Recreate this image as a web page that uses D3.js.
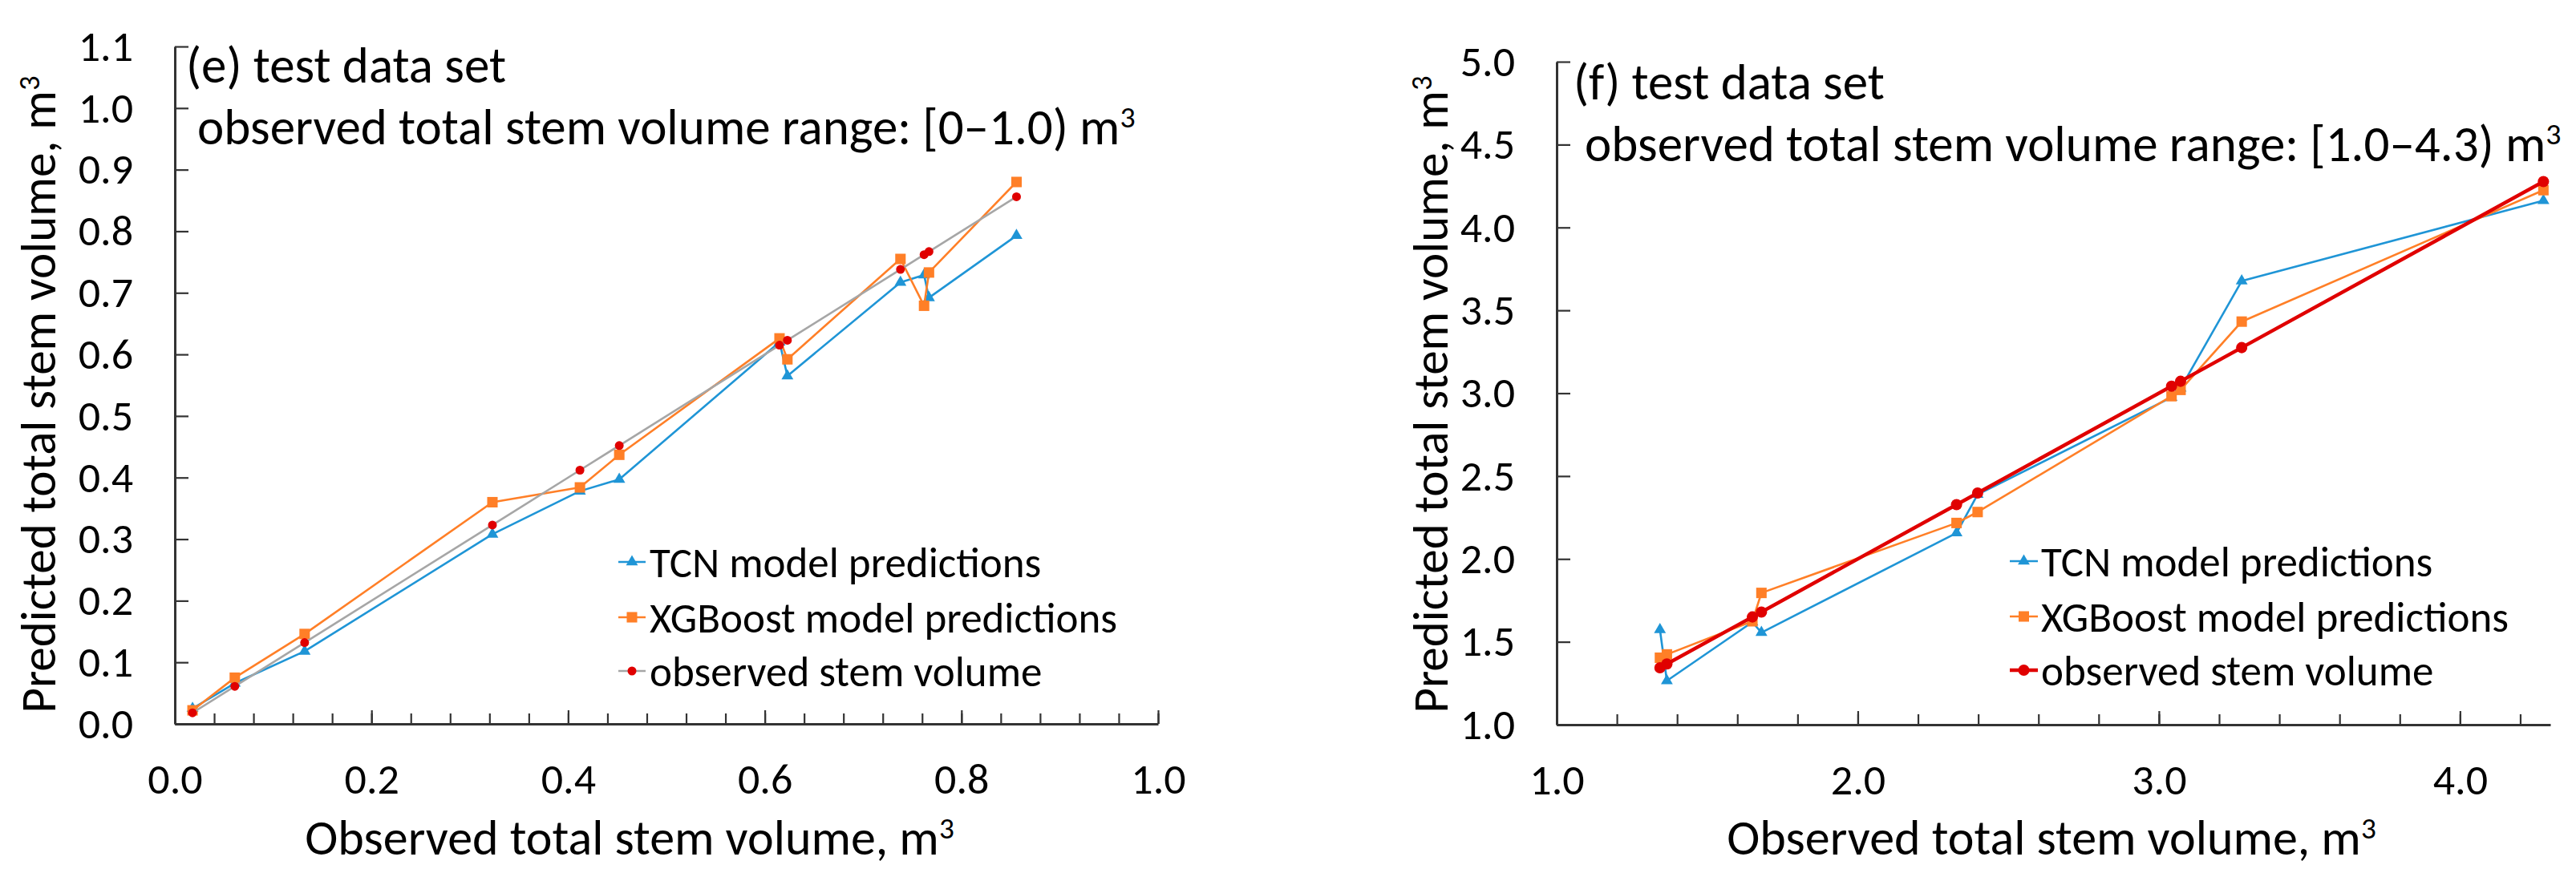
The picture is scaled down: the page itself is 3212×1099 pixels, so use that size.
<!DOCTYPE html>
<html>
<head>
<meta charset="utf-8">
<script src="https://cdn.jsdelivr.net/npm/d3@7"></script>
<style>
  html, body { margin: 0; padding: 0; background: #fff; }
  svg text { font-family: Carlito, Calibri, Lato, "Open Sans", sans-serif; fill: #000; }
</style>
</head>
<body>
<svg id="chart" width="3212" height="1099"></svg>
<script>
// (e) subset: observed volume < 1.0 m3, sorted by observed volume
var obsSmall = [0.018, 0.061, 0.132, 0.323, 0.412, 0.452, 0.615, 0.623, 0.738, 0.762, 0.767, 0.856];
var tcnSmall = [0.025, 0.066, 0.118, 0.308, 0.378, 0.397, 0.620, 0.565, 0.717, 0.729, 0.692, 0.793];
var xgbSmall = [0.022, 0.075, 0.146, 0.360, 0.384, 0.437, 0.626, 0.592, 0.755, 0.679, 0.733, 0.880];

// (f) subset: observed volume 1.0 - 4.3 m3
var obsLarge = [1.343, 1.366, 1.650, 1.680, 2.328, 2.398, 3.042, 3.072, 3.275, 4.277];
var tcnLarge = [1.573, 1.265, 1.619, 1.556, 2.157, 2.389, 2.975, 3.030, 3.677, 4.162];
var xgbLarge = [1.404, 1.424, 1.624, 1.795, 2.217, 2.283, 2.982, 3.020, 3.432, 4.225];

var seriesNames = ["TCN model predictions", "XGBoost model predictions", "observed stem volume"];

var xTicksSmall = [0, 0.2, 0.4, 0.6, 0.8, 1.0];
var yTicksSmall = [0, 0.1, 0.2, 0.3, 0.4, 0.5, 0.6, 0.7, 0.8, 0.9, 1.0, 1.1];
var xTicksLarge = [1, 2, 3, 4];
var yTicksLarge = [1, 1.5, 2, 2.5, 3, 3.5, 4, 4.5, 5];

var blue = "#1f95d6", orange = "#ff7f27", red = "#e00000", grey = "#a6a6a6", axisCol = "#333";
var fmt = d3.format(".1f");
var svg = d3.select("#chart");

function sup(sel, base, s) {
  sel.text(base);
  sel.append("tspan").attr("dy", "-0.55em").attr("font-size", "0.6em").text(s);
}

function drawPanel(p) {
  var g = svg.append("g");
  var x = d3.scaleLinear().domain(p.xDomain).range([p.left, p.right]);
  var y = d3.scaleLinear().domain(p.yDomain).range([p.bottom, p.top]);

  // minor ticks on x, inside
  var minor = g.append("g")
      .attr("transform", "translate(0," + p.bottom + ")")
      .call(d3.axisBottom(x).tickValues(p.xMinor).tickSizeInner(-13).tickSizeOuter(0).tickFormat(""));
  minor.select(".domain").remove();
  minor.selectAll("line").attr("stroke", axisCol).attr("stroke-width", 2.2);

  var xAx = g.append("g")
      .attr("transform", "translate(0," + p.bottom + ")")
      .call(d3.axisBottom(x).tickValues(p.xTicks).tickSizeInner(-17).tickSizeOuter(0).tickFormat(fmt));
  var yAx = g.append("g")
      .attr("transform", "translate(" + p.left + ",0)")
      .call(d3.axisLeft(y).tickValues(p.yTicks).tickSizeInner(-17).tickSizeOuter(0).tickPadding(52).tickFormat(fmt));

  [xAx, yAx].forEach(function(a) {
    a.attr("font-size", 54).attr("font-family", null);
    a.select(".domain").attr("stroke", axisCol).attr("stroke-width", 3);
    a.selectAll(".tick line").attr("stroke", axisCol).attr("stroke-width", 2.2);
  });
  xAx.selectAll("text").attr("y", 87).attr("dy", null);

  // series lines + markers
  var series = [
    {vals: p.tcn, color: blue, lw: 2.6, sym: d3.symbolTriangle, size: 95, mcol: blue},
    {vals: p.xgb, color: orange, lw: 2.6, sym: d3.symbolSquare, size: 170, mcol: orange},
    {vals: p.obs, color: p.obsLine, lw: p.obsLw, sym: d3.symbolCircle, size: p.obsSize, mcol: red}
  ];
  series.forEach(function(s) {
    var line = d3.line()
        .x(function(d, i) { return x(p.obs[i]); })
        .y(function(d) { return y(d); });
    g.append("path").datum(s.vals)
        .attr("fill", "none").attr("stroke", s.color)
        .attr("stroke-width", s.lw).attr("stroke-linejoin", "round")
        .attr("d", line);
    g.selectAll(null).data(s.vals).enter().append("path")
        .attr("d", d3.symbol().type(s.sym).size(s.size))
        .attr("fill", s.mcol)
        .attr("transform", function(d, i) { return "translate(" + x(p.obs[i]) + "," + y(d) + ")"; });
  });

  // legend
  var leg = g.append("g");
  series.forEach(function(s, i) {
    var ly = p.legY[i];
    leg.append("line").attr("x1", p.legX[0]).attr("x2", p.legX[1]).attr("y1", ly).attr("y2", ly)
        .attr("stroke", s.color).attr("stroke-width", s.lw);
    leg.append("path").attr("d", d3.symbol().type(s.sym).size(s.size)).attr("fill", s.mcol)
        .attr("transform", "translate(" + (p.legX[0] + p.legX[1]) / 2 + "," + ly + ")");
    leg.append("text").attr("x", p.legX[2]).attr("y", ly).attr("dy", "0.35em")
        .attr("font-size", 53).text(seriesNames[i]);
  });

  // panel annotation
  g.append("text").attr("x", p.noteX[0]).attr("y", p.noteY[0]).attr("font-size", 63).text(p.note1);
  g.append("text").attr("x", p.noteX[1]).attr("y", p.noteY[1]).attr("font-size", 63)
      .call(sup, p.note2, "3");

  // axis titles
  g.append("text").attr("x", p.xTitleX).attr("y", 1066).attr("text-anchor", "middle")
      .attr("font-size", 62).call(sup, "Observed total stem volume, m", "3");
  g.append("text").attr("transform", "translate(" + p.yTitleX + "," + p.yTitleY + ") rotate(-90)")
      .attr("text-anchor", "middle").attr("font-size", 61)
      .call(sup, "Predicted total stem volume, m", "3");
}

drawPanel({
  xDomain: [0, 1.0], yDomain: [0, 1.1],
  left: 218, right: 1444, top: 58, bottom: 903,
  xTicks: xTicksSmall, yTicks: yTicksSmall,
  xMinor: d3.range(0.04, 1.0001, 0.04),
  obs: obsSmall, tcn: tcnSmall, xgb: xgbSmall,
  obsLine: grey, obsLw: 2.6, obsSize: 95,
  legX: [771, 805, 810], legY: [701, 770, 837],
  note1: "(e) test data set", note2: "observed total stem volume range: [0\u20131.0) m",
  noteX: [232, 246], noteY: [103, 180],
  xTitleX: 785, yTitleX: 69, yTitleY: 492
});

drawPanel({
  xDomain: [1.0, 4.3], yDomain: [1.0, 5.0],
  left: 1941, right: 3180, top: 77, bottom: 904,
  xTicks: xTicksLarge, yTicks: yTicksLarge,
  xMinor: d3.range(1.2, 4.2001, 0.2),
  obs: obsLarge, tcn: tcnLarge, xgb: xgbLarge,
  obsLine: red, obsLw: 4.5, obsSize: 155,
  legX: [2506, 2541, 2545], legY: [700, 769, 836],
  note1: "(f) test data set", note2: "observed total stem volume range: [1.0\u20134.3) m",
  noteX: [1962, 1976], noteY: [124, 201],
  xTitleX: 2558, yTitleX: 1805, yTitleY: 492
});
</script>
</body>
</html>
